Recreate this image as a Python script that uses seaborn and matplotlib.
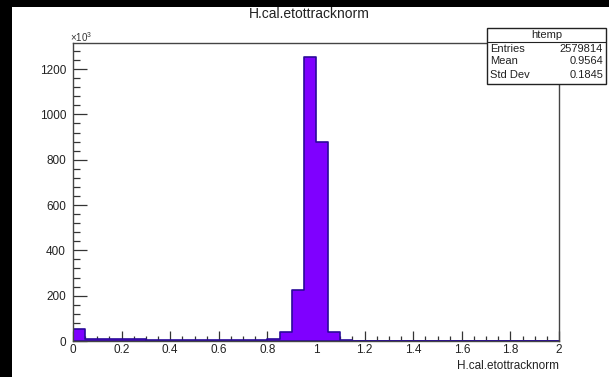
import pandas as pd
import matplotlib
matplotlib.use("Agg")
import matplotlib.pyplot as plt
from matplotlib.patches import Rectangle
from matplotlib.lines import Line2D
from matplotlib.ticker import MultipleLocator
import seaborn as sns

# histogram contents, 40 bins of 0.05 on [0, 2], in units of 10^3 entries
bin_edges = [round(0.05 * i, 3) for i in range(41)]
counts = [53, 9, 8, 8, 7, 7, 6, 6, 5, 5,
          5, 4, 4, 4, 4, 5, 10, 38, 226, 1252,
          876, 40, 3, 1, 0, 0, 0, 0, 0, 0,
          0, 0, 0, 0, 0, 0, 0, 0, 0, 0]
bin_centers = [(a + b) / 2 for a, b in zip(bin_edges[:-1], bin_edges[1:])]

title = "H.cal.etottracknorm"
stats_name = "htemp"
stats_labels = ["Entries", "Mean", "Std Dev"]
stats_values = ["2579814", "0.9564", "0.1845"]

hist_df = pd.DataFrame({"x": bin_centers, "w": counts})

sns.set_style("white")
plt.rcParams['font.family'] = ['Liberation Sans', 'DejaVu Sans']
plt.rcParams['mathtext.default'] = 'regular'

W, H = 609, 377
fig = plt.figure(figsize=(W / 100, H / 100), dpi=100, facecolor='black')
# white canvas (black strip on left and top as in reference)
fig.patches.append(Rectangle((12 / W, 0), 1, 1 - 7 / H, transform=fig.transFigure,
                             facecolor='white', edgecolor='none', zorder=-10))

def fx(px):
    return px / W

def fy(py):
    return 1 - py / H

ax = fig.add_axes([fx(73), fy(341), fx(559) - fx(73), fy(43) - fy(341)])
ax.set_facecolor('white')

sns.histplot(data=hist_df, x="x", weights="w", bins=bin_edges, element='step', fill=True,
             ax=ax, facecolor='#7f00ff', edgecolor='#2a0a9a', linewidth=1.2, alpha=1)

ax.set_xlim(0, 2)
ax.set_ylim(0, 1315)
ax.set_xlabel("")
ax.set_ylabel("")

ax.xaxis.set_major_locator(MultipleLocator(0.2))
ax.xaxis.set_minor_locator(MultipleLocator(0.05))
ax.yaxis.set_major_locator(MultipleLocator(200))
ax.yaxis.set_minor_locator(MultipleLocator(40))
ax.set_xticklabels([f"{v:g}" for v in ax.get_xticks()])

ax.tick_params(axis='y', which='major', direction='in', length=10, width=0.9, left=True,
               color='#333333', labelsize=8.5, pad=5, labelcolor='#222222')
ax.tick_params(axis='y', which='minor', direction='in', length=5, width=0.9, left=True,
               color='#333333')
ax.tick_params(axis='x', which='major', direction='in', length=7, width=0.9, bottom=True,
               color='#333333', labelsize=8.5, pad=2.5, labelcolor='#222222')
ax.tick_params(axis='x', which='minor', direction='in', length=3.5, width=0.9, bottom=True,
               color='#333333')
ax.tick_params(top=False, right=False, which='both')
for s in ax.spines.values():
    s.set_visible(True)
    s.set_color('#444444')
    s.set_linewidth(1.0)

fig.text(fx(309), fy(14), title, ha='center', va='center', fontsize=10, color='#222222')
fig.text(fx(70), fy(37), r'$\times10^{3}$', ha='left', va='center', fontsize=7, color='#333333')
fig.text(fx(559), fy(366), title, ha='right', va='center', fontsize=8.5, color='#222222')

# stats box
bx0, bx1, by0, by1 = 487, 606, 28, 84
fig.patches.append(Rectangle((fx(bx0), fy(by1)), fx(bx1) - fx(bx0), fy(by0) - fy(by1),
                             transform=fig.transFigure, facecolor='white',
                             edgecolor='#222222', linewidth=1, zorder=5))
fig.lines.append(Line2D([fx(bx0), fx(bx1)], [fy(41.5), fy(41.5)], transform=fig.transFigure,
                        color='#222222', linewidth=0.8, zorder=6))
fig.text(fx((bx0 + bx1) / 2), fy(34.5), stats_name, ha='center', va='center',
         fontsize=8, color='#222222', zorder=7)
for i, (lab, val) in enumerate(zip(stats_labels, stats_values)):
    yy = 48.5 + i * 13
    fig.text(fx(bx0 + 3), fy(yy), lab, ha='left', va='center', fontsize=8,
             color='#222222', zorder=7)
    fig.text(fx(bx1 - 3), fy(yy), val, ha='right', va='center', fontsize=8,
             color='#222222', zorder=7)

fig.savefig("out.png", dpi=100, facecolor=fig.get_facecolor())
